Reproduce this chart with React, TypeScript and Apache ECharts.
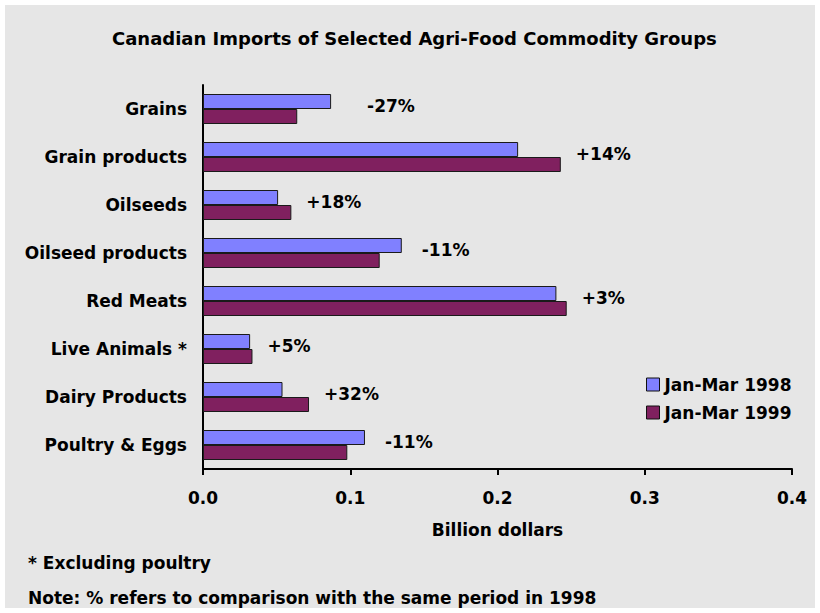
import React, { useEffect, useRef } from "react";
import * as echarts from "echarts";

const categories = [
  "Grains",
  "Grain products",
  "Oilseeds",
  "Oilseed products",
  "Red Meats",
  "Live Animals *",
  "Dairy Products",
  "Poultry & Eggs",
];
const series1998 = [0.087, 0.214, 0.051, 0.135, 0.24, 0.032, 0.054, 0.11];
const series1999 = [0.064, 0.243, 0.06, 0.12, 0.247, 0.0336, 0.072, 0.098];
const changeLabels = ["-27%", "+14%", "+18%", "-11%", "+3%", "+5%", "+32%", "-11%"];
const xTicks = [0, 0.1, 0.2, 0.3, 0.4];
const seriesNames = ["Jan-Mar 1998", "Jan-Mar 1999"];

const FONT = "DejaVu Sans";

export default function App() {
  const ref = useRef<HTMLDivElement>(null);
  useEffect(() => {
    if (!ref.current) return;
    const chart = echarts.init(ref.current, undefined, { renderer: "svg" });
    const txt = { fontFamily: FONT, fontWeight: "bold" as const, fontSize: 17, color: "#000" };
    const labelData = categories.map((c, i) => {
      const neg = changeLabels[i].startsWith("-");
      const dx = i === 0 ? 36 : neg ? 20 : 15;
      return {
        value: [Math.max(series1998[i], series1999[i]), c],
        label: { offset: [dx, -3] },
      };
    });
    chart.setOption({
      animation: false,
      backgroundColor: "transparent",
      title: {
        text: "Canadian Imports of Selected Agri-Food Commodity Groups",
        left: 112,
        top: 29,
        padding: 0,
        textStyle: { ...txt, fontSize: 18 },
      },
      grid: { left: 203, right: 28, top: 85, bottom: 144, containLabel: false },
      legend: {
        data: seriesNames,
        orient: "vertical",
        left: 646,
        top: 376,
        padding: 0,
        itemWidth: 13,
        itemHeight: 13,
        itemGap: 11,
        icon: "rect",
        textStyle: { ...txt },
        itemStyle: { borderColor: "#111", borderWidth: 1 },
      },
      xAxis: {
        type: "value",
        min: xTicks[0],
        max: xTicks[xTicks.length - 1],
        interval: 0.1,
        name: "Billion dollars",
        nameLocation: "middle",
        nameGap: 52,
        nameTextStyle: { ...txt },
        axisLine: { show: true, lineStyle: { color: "#000", width: 2 } },
        axisTick: { show: true, length: 6, lineStyle: { color: "#000", width: 2 } },
        splitLine: { show: false },
        axisLabel: {
          ...txt,
          margin: 20,
          formatter: (v: number) => v.toFixed(1),
        },
      },
      yAxis: {
        type: "category",
        data: categories,
        inverse: true,
        axisLine: { show: true, lineStyle: { color: "#000", width: 2 } },
        axisTick: { show: false },
        axisLabel: { ...txt, margin: 16 },
      },
      series: [
        {
          name: seriesNames[0],
          type: "bar",
          data: series1998,
          barWidth: 15,
          barGap: "0%",
          itemStyle: { color: "#8080ff", borderColor: "#1a1a1a", borderWidth: 1 },
        },
        {
          name: seriesNames[1],
          type: "bar",
          data: series1999,
          barWidth: 15,
          barGap: "0%",
          itemStyle: { color: "#80205f", borderColor: "#1a1a1a", borderWidth: 1 },
        },
        {
          name: "change",
          type: "scatter",
          data: labelData,
          symbolSize: 0,
          silent: true,
          itemStyle: { opacity: 1, color: "transparent" },
          label: {
            show: true,
            position: "right",
            distance: 0,
            formatter: (p: any) => changeLabels[p.dataIndex],
            ...txt,
            opacity: 1,
          },
        },
      ],
      graphic: [
        {
          type: "text",
          left: 28,
          top: 554,
          style: { text: "* Excluding poultry", font: `bold 17px '${FONT}'`, fill: "#000" },
        },
        {
          type: "text",
          left: 28,
          top: 589,
          style: {
            text: "Note: % refers to comparison with the same period in 1998",
            font: `bold 17px '${FONT}'`,
            fill: "#000",
          },
        },
      ],
    });
    return () => chart.dispose();
  }, []);
  return (
    <div style={{ position: "fixed", left: 0, top: 0, width: 820, height: 613, background: "#fff" }}>
      <div style={{ position: "absolute", left: 5, top: 5, right: 5, bottom: 5, background: "#e6e6e6" }} />
      <div ref={ref} style={{ position: "absolute", left: 0, top: 0, width: 820, height: 613 }} />
    </div>
  );
}
